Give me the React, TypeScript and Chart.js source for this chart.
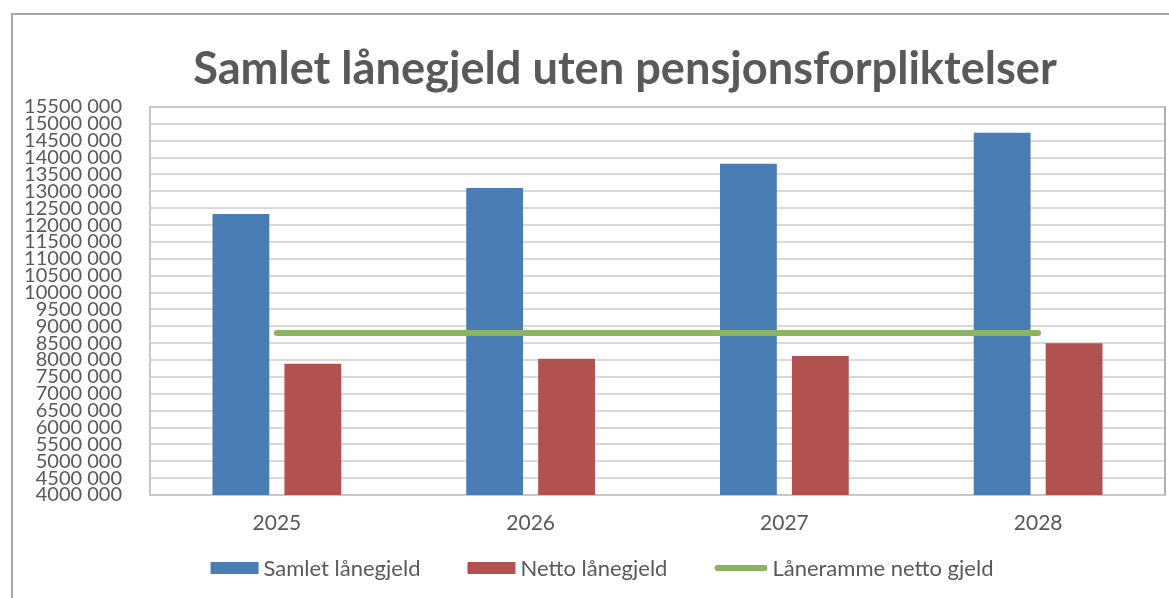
import React, { useEffect, useRef } from 'react';
import { Chart, registerables } from 'chart.js';

Chart.register(...registerables);

// ---- data ----
const categories = ['2025', '2026', '2027', '2028'];
const samletLanegjeld = [12330000, 13100000, 13820000, 14740000];
const nettoLanegjeld = [7890000, 8040000, 8120000, 8500000];
const laneramme = [8800000, 8800000, 8800000, 8800000];
const seriesNames = ['Samlet lånegjeld', 'Netto lånegjeld', 'Låneramme netto gjeld'];
const chartTitle = 'Samlet lånegjeld uten pensjonsforpliktelser';
const yMin = 4000000;
const yMax = 15500000;
const yStep = 500000;

const formatTick = (v: number) => `${Math.floor(v / 1000)} ${String(Math.round(v % 1000)).padStart(3, '0')}`;

const FONT = 'Lato, "Open Sans", "DejaVu Sans", sans-serif';
const TEXT = '#595959';

const framePlugin = {
  id: 'frame',
  beforeDraw(chart: any) {
    const { ctx, width, height } = chart;
    ctx.save();
    ctx.fillStyle = '#ffffff';
    ctx.fillRect(0, 0, width, height);
    ctx.strokeStyle = '#A6A6A6';
    ctx.lineWidth = 2;
    ctx.beginPath();
    ctx.moveTo(12, height + 2);
    ctx.lineTo(12, 14);
    ctx.lineTo(width + 2, 14);
    ctx.stroke();
    ctx.restore();
  },
  beforeDatasetsDraw(chart: any) {
    const { ctx, chartArea: a } = chart;
    ctx.save();
    ctx.strokeStyle = '#C8C8C8';
    ctx.lineWidth = 2;
    ctx.strokeRect(a.left, a.top, a.right - a.left, a.bottom - a.top);
    ctx.strokeStyle = '#B0B0B0';
    ctx.beginPath();
    ctx.moveTo(a.right, a.top);
    ctx.lineTo(a.right, a.bottom);
    ctx.stroke();
    ctx.restore();
  },
};

const titleLegendPlugin = {
  id: 'titleLegend',
  afterDraw(chart: any) {
    const { ctx } = chart;
    ctx.save();
    // title
    ctx.font = `bold 100px ${FONT}`;
    const w100 = ctx.measureText(chartTitle).width;
    const size = Math.min(46, (100 * 864) / w100);
    ctx.font = `bold ${size}px ${FONT}`;
    ctx.fillStyle = TEXT;
    ctx.textAlign = 'center';
    ctx.textBaseline = 'alphabetic';
    ctx.fillText(chartTitle, 625, 84);

    // legend
    ctx.font = `22px ${FONT}`;
    ctx.textAlign = 'left';
    ctx.textBaseline = 'middle';
    const ds = chart.data.datasets;
    const items = ds.map((d: any) => ({
      label: d.label,
      isLine: d.type === 'line',
      color: d.type === 'line' ? d.borderColor : d.backgroundColor,
      keyW: d.type === 'line' ? 53 : 48,
      textW: ctx.measureText(d.label).width,
    }));
    const gap = 5;
    const spacing = 47;
    const total = items.reduce((s: number, it: any) => s + it.keyW + gap + it.textW, 0) + spacing * (items.length - 1);
    let x = 602 - total / 2;
    const cy = 568;
    items.forEach((it: any) => {
      if (it.isLine) {
        ctx.strokeStyle = it.color;
        ctx.lineWidth = 6;
        ctx.lineCap = 'round';
        ctx.beginPath();
        ctx.moveTo(x + 3, cy);
        ctx.lineTo(x + it.keyW - 3, cy);
        ctx.stroke();
      } else {
        ctx.fillStyle = it.color;
        ctx.fillRect(x, cy - 6, it.keyW, 12);
      }
      x += it.keyW + gap;
      ctx.fillStyle = TEXT;
      ctx.fillText(it.label, x, cy + 1);
      x += it.textW + spacing;
    });
    ctx.restore();
  },
};

export default function App() {
  const canvasRef = useRef<HTMLCanvasElement | null>(null);

  useEffect(() => {
    if (!canvasRef.current) return;
    const chart = new Chart(canvasRef.current, {
      type: 'bar',
      data: {
        labels: categories,
        datasets: [
          {
            type: 'bar',
            label: seriesNames[0],
            data: samletLanegjeld,
            backgroundColor: '#4A7DB4',
            borderWidth: 0,
            order: 2,
            categoryPercentage: 0.567,
            barPercentage: 0.79,
          },
          {
            type: 'bar',
            label: seriesNames[1],
            data: nettoLanegjeld,
            backgroundColor: '#B25250',
            borderWidth: 0,
            order: 2,
            categoryPercentage: 0.567,
            barPercentage: 0.79,
          },
          {
            type: 'line',
            label: seriesNames[2],
            data: laneramme,
            borderColor: '#8CB463',
            backgroundColor: '#8CB463',
            borderWidth: 6,
            borderCapStyle: 'round',
            pointRadius: 0,
            pointHoverRadius: 0,
            fill: false,
            order: 0,
          },
        ] as any,
      },
      options: {
        responsive: false,
        animation: false,
        layout: { padding: { left: 14, right: 4, top: 107, bottom: 63 } },
        plugins: {
          legend: { display: false },
          title: { display: false },
          tooltip: { enabled: false },
        },
        scales: {
          x: {
            grid: { display: false, drawTicks: false },
            border: { display: false },
            ticks: { font: { family: FONT, size: 21 }, color: TEXT, padding: 16 },
            afterFit: (s: any) => {
              s.height = 40;
            },
          },
          y: {
            min: yMin,
            max: yMax,
            grid: { color: '#D9D9D9', lineWidth: 2, drawTicks: false },
            border: { display: false },
            ticks: {
              stepSize: yStep,
              autoSkip: false,
              font: { family: FONT, size: 20 },
              color: TEXT,
              padding: 28,
              callback: (v: any) => formatTick(Number(v)),
            },
            afterFit: (s: any) => {
              s.width = 136;
            },
          },
        },
      } as any,
      plugins: [framePlugin, titleLegendPlugin],
    });
    return () => chart.destroy();
  }, []);

  return (
    <div style={{ position: 'absolute', left: 0, top: 0, width: 1169, height: 598 }}>
      <canvas ref={canvasRef} width={1169} height={598} style={{ display: 'block' }} />
    </div>
  );
}
